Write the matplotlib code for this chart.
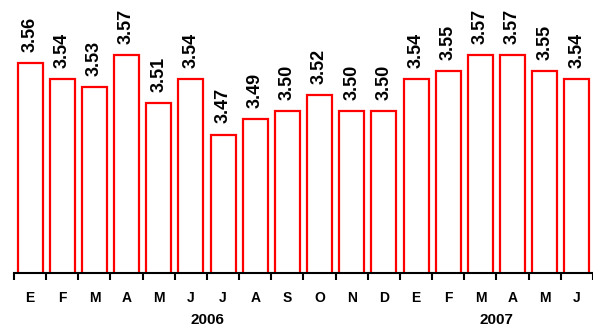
import numpy as np
import matplotlib.pyplot as plt

months = ["E", "F", "M", "A", "M", "J", "J", "A", "S", "O", "N", "D",
          "E", "F", "M", "A", "M", "J"]
values = [3.56, 3.54, 3.53, 3.57, 3.51, 3.54, 3.47, 3.49, 3.50, 3.52, 3.50, 3.50,
          3.54, 3.55, 3.57, 3.57, 3.55, 3.54]
years = ["2006", "2007"]

plt.rcParams['font.family'] = ['Liberation Sans', 'DejaVu Sans']

fig = plt.figure(figsize=(5.93, 3.30), dpi=100)
ax = fig.add_axes([14 / 593, 57 / 330, 579 / 593, 273 / 330])

x = np.arange(len(values))
ax.bar(x, values, width=0.78, color='white', edgecolor='#ff0000', linewidth=1.6)

for xi, v in zip(x, values):
    ax.annotate("%.2f" % v, (xi, v), xytext=(0, 8), textcoords='offset points',
                rotation=90, ha='center', va='bottom', fontsize=13, fontweight='bold')

ax.set_xlim(-0.5, len(values) - 0.5)
ax.set_ylim(3.295, 3.64)

for s in ['top', 'right', 'left']:
    ax.spines[s].set_visible(False)
ax.spines['bottom'].set_linewidth(1.5)
ax.set_yticks([])

# tick marks on the category boundaries, month letters centred below
ax.set_xticks(np.arange(len(values) + 1) - 0.5)
ax.set_xticklabels([])
ax.tick_params(axis='x', length=5, width=1.5, direction='out')
for xi, m in zip(x, months):
    ax.text(xi, -0.092, m, transform=ax.get_xaxis_transform(), ha='center', va='center',
            fontsize=10, fontweight='bold')

ax.text(5.5, -0.172, years[0], transform=ax.get_xaxis_transform(), ha='center',
        va='center', fontsize=11, fontweight='bold')
ax.text(14.5, -0.172, years[1], transform=ax.get_xaxis_transform(), ha='center',
        va='center', fontsize=11, fontweight='bold')

fig.savefig("out.png", dpi=100)
